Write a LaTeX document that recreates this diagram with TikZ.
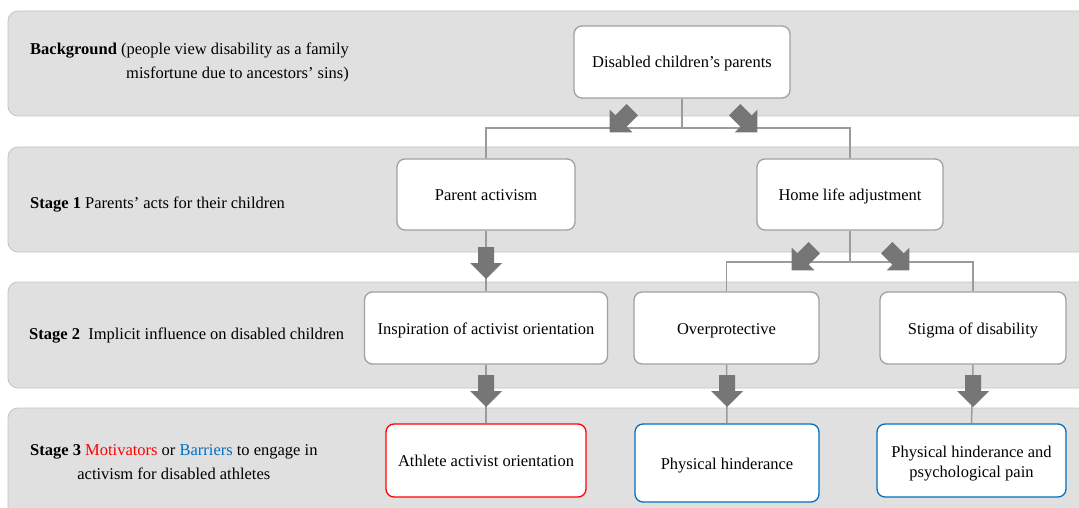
\documentclass[tikz,border=0pt]{standalone}
\usepackage{fontspec}
\setmainfont{Liberation Serif}
\definecolor{bandfill}{RGB}{224,224,224}
\definecolor{bandline}{RGB}{196,196,196}
\definecolor{boxline}{RGB}{160,160,160}
\definecolor{conn}{RGB}{155,155,155}
\definecolor{arrowfill}{RGB}{118,118,118}
\definecolor{motred}{RGB}{255,0,0}
\definecolor{barblue}{RGB}{0,112,192}
\begin{document}
\begin{tikzpicture}[x=1pt,y=-1pt,
  band/.style={fill=bandfill,draw=bandline,line width=0.8pt,rounded corners=10pt},
  box/.style={draw=boxline,fill=white,line width=1.3pt,rounded corners=8pt,align=center,
    font=\fontsize{16.5}{20}\selectfont,inner sep=2pt,text height=15.5pt,text depth=3.5pt},
  redbox/.style={box,draw=motred},
  bluebox/.style={box,draw=barblue},
  lab/.style={anchor=west,font=\fontsize{16.5}{24}\selectfont,inner sep=0pt},
  conline/.style={draw=conn,line width=1.5pt},
  blockarrow/.pic={\fill[arrowfill] (-8,-16)--(8,-16)--(8,0)--(16,0)--(0,16)--(-16,0)--(-8,0)--cycle;}
]
\useasboundingbox (0,0) rectangle (1079,508);
\clip (0,0) rectangle (1079,508);
% bands
\path[band] (8,11) rectangle (1100,116);
\path[band] (8,147) rectangle (1100,252);
\path[band] (8,282) rectangle (1100,388);
\path[band] (8,408) rectangle (1100,530);
% labels
\node[lab,align=right] (lbg) at (30,62) {\textbf{Background} (people view disability as a family\\misfortune due to ancestors’ sins)};
\node[lab] (ls1) at (30,205) {\textbf{Stage 1} Parents’ acts for their children};
\node[lab] (ls2) at (29,336) {\textbf{Stage 2}\ \ Implicit influence on disabled children};
\node[lab,align=center] (ls3) at (30,462) {\textbf{Stage 3} \textcolor{motred}{Motivators} or \textcolor{barblue}{Barriers} to engage in\\activism for disabled athletes};
% nodes
\node[box,minimum width=216pt,minimum height=72pt] (parents) at (682,62) {Disabled children’s parents};
\node[box,minimum width=178pt,minimum height=71pt] (pa) at (486,194.5) {Parent activism};
\node[box,minimum width=186pt,minimum height=71pt] (hla) at (850,194.5) {Home life adjustment};
\node[box,minimum width=243pt,minimum height=72pt] (insp) at (486,328) {Inspiration of activist orientation};
\node[box,minimum width=185pt,minimum height=72pt] (over) at (726.5,328) {Overprotective};
\node[box,minimum width=186pt,minimum height=72pt] (stig) at (973,328) {Stigma of disability};
\node[redbox,minimum width=200pt,minimum height=73pt] (ath) at (486,460.5) {Athlete activist orientation};
\node[bluebox,minimum width=184pt,minimum height=78pt] (phys) at (727,463) {Physical hinderance};
\node[bluebox,minimum width=189pt,minimum height=73pt,text height=37.5pt] (psy) at (971.5,460.5) {Physical hinderance and\\psychological pain};
% connectors
\draw[conline] (parents.south) -- (parents.south |- 0,128) coordinate (j0);
\draw[conline] (pa.north) |- (j0) -| (hla.north);
\draw[conline] (hla.south) -- (hla.south |- 0,262) coordinate (j1);
\draw[conline] (over.north) |- (j1) -| (stig.north);
\draw[conline] (pa.south) -- (insp.north);
\draw[conline] (insp.south) -- (ath.north);
\draw[conline] (over.south) -- (phys.north);
\draw[conline] (stig.south) -- (psy.north);
% block arrows
\pic[rotate=-45] at (621,121) {blockarrow};
\pic[rotate=45] at (746,121) {blockarrow};
\pic[rotate=-45] at (803,259) {blockarrow};
\pic[rotate=45] at (898,259) {blockarrow};
\pic at (486,263) {blockarrow};
\pic at (486,391) {blockarrow};
\pic at (727,391) {blockarrow};
\pic at (973,391) {blockarrow};
\end{tikzpicture}
\end{document}
